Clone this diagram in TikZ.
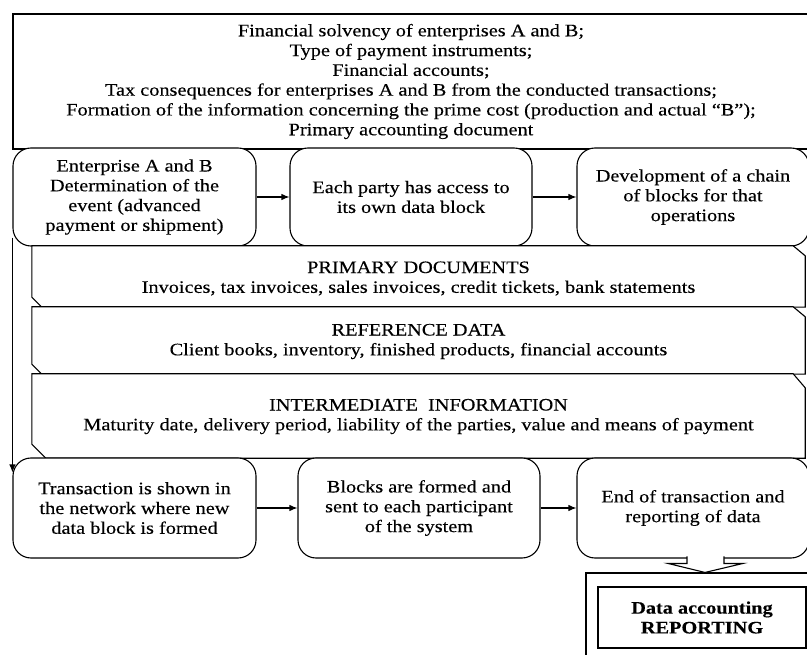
\documentclass[tikz,border=0pt]{standalone}
\usepackage{fontspec}
\setmainfont{Liberation Serif}[FakeStretch=1.16,FakeBold=0.25]
\usetikzlibrary{arrows.meta}
\begin{document}
\begin{tikzpicture}[x=1pt,y=-1pt,
  every node/.style={inner sep=0pt,align=center,font=\fontsize{17.5}{19.8}\selectfont},
  frame/.style={draw,line width=1.1pt,rectangle},
  rbox/.style={draw,fill=white,line width=1.1pt,rounded corners=18pt,minimum height=98pt},
  band/.style={rectangle,minimum width=773pt},
  bandline/.style={draw,line width=1.1pt,fill=white},
  arr/.style={line width=1.1pt,-{Latex[length=8pt,width=6.5pt]}},
  hollow/.style={draw,line width=1.1pt,fill=white,line join=miter}]
\useasboundingbox (0,0) rectangle (807,655);

% factors box
\node[frame,minimum width=796pt,minimum height=135pt] (factors) at (411,81.5)
  {Financial solvency of enterprises A and B;\\
   Type of payment instruments;\\
   Financial accounts;\\
   Tax consequences for enterprises A and B from the conducted transactions;\\
   Formation of the information concerning the prime cost (production and actual “B”);\\
   Primary accounting document};

% first row of steps
\node[rbox,minimum width=243pt] (event) at (134.5,197)
  {Enterprise A and B\\Determination of the\\event (advanced\\payment or shipment)};
\node[rbox,minimum width=242pt] (access) at (411,197)
  {Each party has access to\\its own data block};
\node[rbox,minimum width=232pt] (chain) at (693,197)
  {Development of a chain\\of blocks for that\\operations};

% information bands
\node[band,minimum height=61pt] (prim) at (418.5,276.5) {};
\node[band,minimum height=67pt] (ref) at (418.5,340.5) {};
\node[band,minimum height=84pt] (inter) at (418.5,416) {};
\foreach \b/\c in {prim/10,ref/10,inter/14}{
  \path[bandline] (\b.north west) -- ([xshift=-12pt]\b.north east)
    -- ([yshift=-\c pt]\b.north east) -- (\b.south east)
    -- ([xshift=\c pt]\b.south west) -- ([yshift=\c pt]\b.south west) -- cycle;
}
\node (primtext) at ([yshift=-2pt]prim.center)
  {PRIMARY DOCUMENTS\\Invoices, tax invoices, sales invoices, credit tickets, bank statements};
\node (reftext) at ([yshift=-1pt]ref.center)
  {REFERENCE DATA\\Client books, inventory, finished products, financial accounts};
\node (intertext) at ([yshift=-0.5pt]inter.center)
  {INTERMEDIATE\ \ INFORMATION\\Maturity date, delivery period, liability of the parties, value and means of payment};

% second row of steps
\node[rbox,minimum width=243pt,minimum height=100pt] (shown) at (134.5,508)
  {Transaction is shown in\\the network where new\\data block is formed};
\node[rbox,minimum width=242pt,minimum height=100pt] (formed) at (419,508)
  {Blocks are formed and\\sent to each participant\\of the system};
\node[rbox,minimum width=232pt,minimum height=100pt] (end) at (693,508)
  {End of transaction and\\reporting of data};

% connectors
\draw[arr] (event) -- (access);
\draw[arr] (access) -- (chain);
\draw[arr] (shown) -- (formed);
\draw[arr] (formed) -- (end);
\draw[arr] ([yshift=9pt]event.south west) -- ([yshift=-15pt]shown.north west);

% reporting
\node[frame,minimum width=234pt,minimum height=108pt] (outer) at (703,627) {};
\node[frame,minimum width=208pt,minimum height=61pt,font=\fontsize{17.5}{19.8}\selectfont\bfseries] (report) at (702,617.5)
  {Data accounting\\REPORTING};
\coordinate (tip) at ([xshift=2pt]outer.north);
\path[hollow] ([xshift=-18pt,yshift=16pt]tip) -- ([xshift=-18pt,yshift=9pt]tip)
  -- ([xshift=-37pt,yshift=9pt]tip) -- (tip) -- ([xshift=38pt,yshift=9pt]tip)
  -- ([xshift=19pt,yshift=9pt]tip) -- ([xshift=19pt,yshift=16pt]tip);
\end{tikzpicture}
\end{document}
